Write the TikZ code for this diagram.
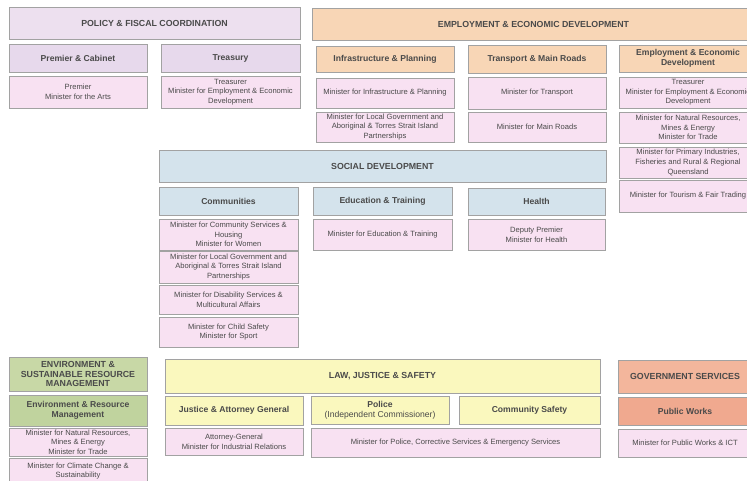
\documentclass[tikz,border=0pt]{standalone}
\usepackage{fontspec}
\setmainfont{Liberation Sans}
\definecolor{edge}{HTML}{A2A2A2}
\definecolor{ink}{HTML}{4A4A4A}
\definecolor{lavtop}{HTML}{EDE0EF}
\definecolor{lav}{HTML}{E7D9EC}
\definecolor{pinkm}{HTML}{F8E1F2}
\definecolor{peach}{HTML}{F8D6B6}
\definecolor{skyb}{HTML}{D4E3EC}
\definecolor{greenh}{HTML}{C8D8A6}
\definecolor{greens}{HTML}{C0D39E}
\definecolor{lemon}{HTML}{FAF8BE}
\definecolor{salmon}{HTML}{F3B69C}
\definecolor{salmond}{HTML}{F0A98F}
% one box from its corners: name, style, x1, y1, x2, y2, text
\newcommand\ob[7]{\node[#2, minimum width={(#5-#3)*1pt}, minimum height={(#6-#4)*1pt}] (#1) at ({(#3+#5)/2},{(#4+#6)/2}) {#7};}
\begin{document}
\begin{tikzpicture}[x=1pt,y=-1pt,
  base/.style={draw=edge, line width=0.6pt, inner sep=0pt, align=center, text=ink},
  grouphead/.style={base, font=\bfseries\fontsize{8.8}{9.8}\selectfont},
  dept/.style={base, font=\bfseries\fontsize{8.6}{9.8}\selectfont},
  minister/.style={base, fill=pinkm, font=\fontsize{7.6}{9.6}\selectfont}]
\clip (0,0) rectangle (747,481);
\fill[white] (0,0) rectangle (747,481);

% policy and fiscal coordination
\ob{pol}{grouphead, fill=lavtop}{9}{7}{300}{39}{POLICY \& FISCAL COORDINATION}
\ob{pc}{dept, fill=lav}{9}{44}{147}{72}{Premier \& Cabinet}
\ob{tr}{dept, fill=lav}{161}{44}{300}{72}{Treasury}
\ob{pcm}{minister}{9}{76}{147}{108}{Premier\\Minister for the Arts}
\ob{trm}{minister}{161}{76}{300}{108}{Treasurer\\Minister for Employment \& Economic\\Development}

% employment and economic development
\ob{eed}{grouphead, fill=peach}{312}{8}{755}{40}{EMPLOYMENT \& ECONOMIC DEVELOPMENT}
\ob{ip}{dept, fill=peach}{316}{46}{454}{72}{Infrastructure \& Planning}
\ob{tmr}{dept, fill=peach}{468}{45}{606}{73}{Transport \& Main Roads}
\ob{eedd}{dept, fill=peach}{619}{45}{757}{72}{Employment \& Economic\\Development}
\ob{ipa}{minister}{316}{78}{454}{108}{Minister for Infrastructure \& Planning}
\ob{ipb}{minister}{316}{112}{454}{142}{Minister for Local Government and\\Aboriginal \& Torres Strait Island\\Partnerships}
\ob{tmra}{minister}{468}{77}{606}{109}{Minister for Transport}
\ob{tmrb}{minister}{468}{112}{606}{142}{Minister for Main Roads}
\ob{eda}{minister}{619}{77}{757}{108}{Treasurer\\Minister for Employment \& Economic\\Development}
\ob{edb}{minister}{619}{112}{757}{143}{Minister for Natural Resources,\\Mines \& Energy\\Minister for Trade}
\ob{edc}{minister}{619}{147}{757}{178}{Minister for Primary Industries,\\Fisheries and Rural \& Regional\\Queensland}
\ob{edd}{minister}{619}{180}{757}{212}{Minister for Tourism \& Fair Trading}

% social development
\ob{sd}{grouphead, fill=skyb}{159}{150}{606}{182}{SOCIAL DEVELOPMENT}
\ob{com}{dept, fill=skyb}{159}{187}{298}{215}{Communities}
\ob{et}{dept, fill=skyb}{313}{187}{452}{215}{Education \& Training}
\ob{hl}{dept, fill=skyb}{468}{188}{605}{215}{Health}
\ob{coma}{minister}{159}{219}{298}{250}{Minister for Community Services \&\\Housing\\Minister for Women}
\ob{comb}{minister}{159}{251}{298}{283}{Minister for Local Government and\\Aboriginal \& Torres Strait Island\\Partnerships}
\ob{comc}{minister}{159}{285}{298}{314}{Minister for Disability Services \&\\Multicultural Affairs}
\ob{comd}{minister}{159}{317}{298}{347}{Minister for Child Safety\\Minister for Sport}
\ob{eta}{minister}{313}{219}{452}{250}{Minister for Education \& Training}
\ob{hla}{minister}{468}{219}{605}{250}{Deputy Premier\\Minister for Health}

% environment and sustainable resource management
\ob{env}{grouphead, fill=greenh}{9}{357}{147}{391}{ENVIRONMENT \&\\SUSTAINABLE RESOURCE\\MANAGEMENT}
\ob{erm}{dept, fill=greens}{9}{395}{147}{426}{Environment \& Resource\\Management}
\ob{erma}{minister}{9}{428}{147}{456}{Minister for Natural Resources,\\Mines \& Energy\\Minister for Trade}
\ob{ermb}{minister}{9}{458}{147}{484}{Minister for Climate Change \&\\Sustainability}

% law, justice and safety
\ob{law}{grouphead, fill=lemon}{165}{359}{600}{393}{LAW, JUSTICE \& SAFETY}
\ob{jag}{dept, fill=lemon}{165}{396}{303}{425}{Justice \& Attorney General}
\ob{plc}{dept, fill=lemon}{311}{396}{449}{424}{Police\\{\mdseries (Independent Commissioner)}}
\ob{cs}{dept, fill=lemon}{459}{396}{600}{424}{Community Safety}
\ob{jaga}{minister}{165}{428}{303}{455}{Attorney-General\\Minister for Industrial Relations}
\ob{plca}{minister}{311}{428}{600}{457}{Minister for Police, Corrective Services \& Emergency Services}

% government services
\ob{gs}{grouphead, fill=salmon}{618}{360}{752}{393}{GOVERNMENT SERVICES}
\ob{pw}{dept, fill=salmond}{618}{397}{752}{425}{Public Works}
\ob{pwa}{minister}{618}{429}{752}{457}{Minister for Public Works \& ICT}
\end{tikzpicture}
\end{document}
